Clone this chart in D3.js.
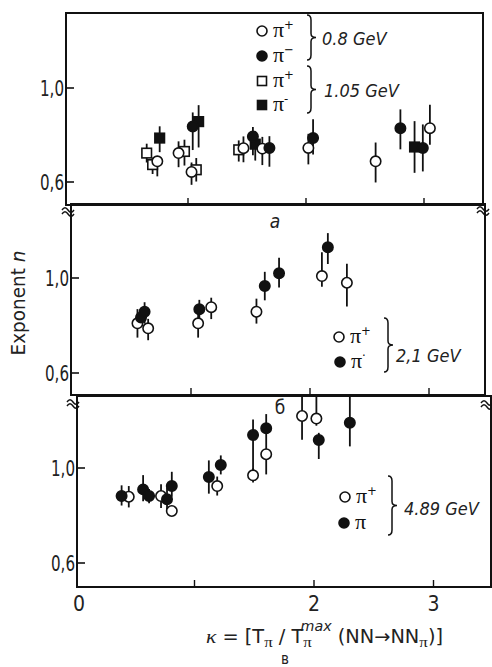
<!DOCTYPE html>
<html><head><meta charset="utf-8">
<script src="https://cdn.jsdelivr.net/npm/d3@7"></script>
<style>body{margin:0;background:#fff}svg{display:block}</style>
</head><body>
<svg id="c" width="492" height="667"></svg>
<script>
// ---- data: each point is [kappa, n, errDown, errUp] ----
// panel а : 0.8 GeV and 1.05 GeV
const pipA08 = [[0.74,0.688,0.064,0.02],[0.92,0.723,0.06,0.05],[1.03,0.643,0.055,0.04],[1.47,0.744,0.06,0.05],[1.63,0.742,0.07,0.05],[2.02,0.745,0.07,0.06],[2.59,0.688,0.09,0.08],[3.05,0.829,0.07,0.10]];
const pimA08 = [[1.04,0.836,0.10,0.06],[1.55,0.794,0.08,0.04],[1.69,0.745,0.08,0.05],[2.06,0.787,0.07,0.08],[2.80,0.829,0.09,0.08],[2.99,0.745,0.10,0.10]];
const pipA105 = [[0.65,0.723,0.04,0.04],[0.70,0.674,0.04,0.03],[0.97,0.730,0.06,0.05],[1.07,0.652,0.05,0.05],[1.43,0.737,0.05,0.04]];
const pimA105 = [[0.76,0.787,0.06,0.05],[1.09,0.857,0.11,0.07],[1.57,0.761,0.07,0.04],[2.92,0.749,0.11,0.11]];
// panel б : 2.1 GeV
const pipB21 = [[0.55,0.809,0.06,0.06],[0.64,0.788,0.05,0.04],[1.06,0.809,0.06,0.05],[1.17,0.877,0.05,0.04],[1.55,0.858,0.05,0.055],[2.10,1.008,0.045,0.10],[2.31,0.980,0.10,0.08]];
const pimB21 = [[0.58,0.834,0.04,0.04],[0.61,0.858,0.05,0.04],[1.07,0.868,0.05,0.04],[1.62,0.966,0.06,0.06],[1.74,1.020,0.06,0.065],[2.15,1.129,0.07,0.06]];
// panel в : 4.89 GeV
const pipC489 = [[0.45,0.879,0.045,0.045],[0.72,0.882,0.05,0.05],[0.81,0.819,0.02,0.02],[1.19,0.924,0.04,0.04],[1.49,0.969,0.03,0.03],[1.60,1.058,0.085,0.11],[1.90,1.219,0.10,0.12],[2.02,1.208,0.03,0.12]];
const pimC489 = [[0.39,0.882,0.04,0.045],[0.57,0.910,0.05,0.06],[0.62,0.882,0.03,0.03],[0.77,0.868,0.05,0.05],[0.81,0.924,0.045,0.06],[1.12,0.962,0.07,0.07],[1.22,1.013,0.04,0.04],[1.49,1.139,0.17,0.065],[1.60,1.167,0.0,0.06],[2.04,1.118,0.08,0.03],[2.30,1.191,0.10,0.12]];

const xTicks = [1, 2, 3];
const yTicks = [0.6, 1.0];
const yTickLabels = ["0,6", "1,0"];
const xTickValues = [0, 2, 3];
const xTickLabels = ["0", "2", "3"];
const panelLetters = ["а", "б"];
const legendA = [["π","+"],["π","−"],["π","+"],["π","-"]];
const energyA = ["0.8 GeV", "1.05 GeV"];
const legendB = [["π","+"],["π","·"]];
const energyB = ["2,1 GeV"];
const legendC = [["π","+"],["π",""]];
const energyC = ["4.89 GeV"];

const svg = d3.select("#c");
const SANS = "'DejaVu Sans Condensed','Liberation Sans Narrow','DejaVu Sans',sans-serif";
const SERIF = "'Liberation Serif','DejaVu Serif',serif";

const panels = [
  {L:66,R:483,T:13,B:205,k0:70,k1:188,y06:182,y10:88,
   series:[{d:pipA105,shape:"square",fill:false},{d:pimA105,shape:"square",fill:true},
           {d:pipA08,shape:"circle",fill:false},{d:pimA08,shape:"circle",fill:true}]},
  {L:71,R:485,T:204,B:395,k0:72,k1:191,y06:373,y10:278,
   series:[{d:pipB21,shape:"circle",fill:false},{d:pimB21,shape:"circle",fill:true}]},
  {L:77,R:491,T:396,B:587,k0:75,k1:194.5,y06:563,y10:468,
   series:[{d:pipC489,shape:"circle",fill:false},{d:pimC489,shape:"circle",fill:true}]}
];

const defs = svg.append("defs");
panels.forEach((p,i)=>{
  p.x = d3.scaleLinear().domain([0,1]).range([p.k0,p.k1]);
  p.y = d3.scaleLinear().domain([0.6,1.0]).range([p.y06,p.y10]);
  defs.append("clipPath").attr("id","clip"+i).append("rect")
    .attr("x",p.L).attr("y",p.T).attr("width",p.R-p.L).attr("height",p.B-p.T);
});

function marker(g, shape, fill, cx, cy, size){
  if(shape==="circle"){
    g.append("circle").attr("cx",cx).attr("cy",cy).attr("r",size)
      .attr("fill",fill?"#111":"#fff").attr("stroke","#111").attr("stroke-width",1.6);
  } else {
    g.append("rect").attr("x",cx-size).attr("y",cy-size).attr("width",2*size).attr("height",2*size)
      .attr("fill",fill?"#111":"#fff").attr("stroke","#111").attr("stroke-width",1.6);
  }
}

panels.forEach((p,i)=>{
  const g = svg.append("g");
  g.append("rect").attr("x",p.L).attr("y",p.T).attr("width",p.R-p.L).attr("height",p.B-p.T)
    .attr("fill","none").attr("stroke","#111").attr("stroke-width",2);
  yTicks.forEach((t,j)=>{
    g.append("line").attr("x1",p.L).attr("x2",p.L+8).attr("y1",p.y(t)).attr("y2",p.y(t))
      .attr("stroke","#111").attr("stroke-width",1.6);
    g.append("text").attr("x",p.L-2).attr("y",p.y(t)+8).attr("text-anchor","end")
      .attr("font-family",SANS).attr("font-size",22).attr("fill","#222")
      .attr("textLength",24).attr("lengthAdjust","spacingAndGlyphs").text(yTickLabels[j]);
  });
  xTicks.forEach(t=>{
    g.append("line").attr("x1",p.x(t)).attr("x2",p.x(t)).attr("y1",p.B).attr("y2",p.B-7)
      .attr("stroke","#111").attr("stroke-width",1.4);
  });
  const dg = g.append("g").attr("clip-path","url(#clip"+i+")");
  p.series.forEach(s=>{
    s.d.forEach(d=>{
      dg.append("line").attr("x1",p.x(d[0])).attr("x2",p.x(d[0]))
        .attr("y1",p.y(d[1]-d[2])).attr("y2",p.y(d[1]+d[3]))
        .attr("stroke","#111").attr("stroke-width",1.8);
    });
  });
  p.series.forEach(s=>{
    s.d.forEach(d=>{
      marker(dg, s.shape, s.fill, p.x(d[0]), p.y(d[1]), s.shape==="circle"?5.2:4.8);
    });
  });
});

function brk(x,y){
  [0,4].forEach(o=>{
    svg.append("path").attr("d",`M${x-6},${y+o} c2,-3 4,-3 6,0 s4,3 6,0`)
      .attr("fill","none").attr("stroke","#111").attr("stroke-width",1.4);
  });
}
brk(68,210); brk(483,209); brk(73,402); brk(487,403);

svg.append("text").attr("x",275).attr("y",228).attr("text-anchor","middle")
  .attr("font-family",SANS).attr("font-size",19).attr("font-style","italic").attr("fill","#222").text(panelLetters[0]);
svg.append("text").attr("x",280).attr("y",414).attr("text-anchor","middle")
  .attr("font-family",SANS).attr("font-size",19).attr("fill","#222").text(panelLetters[1]);

function legendItem(shape, fill, cx, cy, lab){
  marker(svg, shape, fill, cx, cy, shape==="circle"?5:4.5);
  const t = svg.append("text").attr("x",cx+11).attr("y",cy+6)
    .attr("font-family",SERIF).attr("font-size",22).attr("fill","#111");
  t.append("tspan").text(lab[0]);
  t.append("tspan").attr("dy",-8).attr("font-size",13).attr("font-family",SANS).text(lab[1]);
}
function brace(x, y1, y2){
  const m=(y1+y2)/2;
  svg.append("path").attr("d",`M${x-4},${y1} Q${x},${y1} ${x},${y1+5} L${x},${m-4} Q${x},${m} ${x+5},${m} Q${x},${m} ${x},${m+4} L${x},${y2-5} Q${x},${y2} ${x-4},${y2}`)
    .attr("fill","none").attr("stroke","#111").attr("stroke-width",1.5);
}
function energy(x,y,txt){
  svg.append("text").attr("x",x).attr("y",y).attr("font-family",SANS).attr("font-size",18)
    .attr("font-style","italic").attr("fill","#222").text(txt);
}
legendItem("circle",false,262,31,legendA[0]);
legendItem("circle",true,262,56,legendA[1]);
legendItem("square",false,262,81,legendA[2]);
legendItem("square",true,262,105,legendA[3]);
brace(311,15,60); brace(311,66,113);
energy(322,45,energyA[0]); energy(324,97,energyA[1]);

legendItem("circle",false,339,337,legendB[0]);
legendItem("circle",true,340,362,legendB[1]);
brace(388,318,372);
energy(396,362,energyB[0]);

legendItem("circle",false,345,497,legendC[0]);
legendItem("circle",true,344,523,legendC[1]);
brace(392,476,535);
energy(404,515,energyC[0]);

svg.append("text").attr("transform","translate(25,303) rotate(-90)").attr("text-anchor","middle")
  .attr("font-family",SANS).attr("font-size",19).attr("fill","#222")
  .attr("textLength",105).attr("lengthAdjust","spacingAndGlyphs")
  .html('Exponent <tspan font-style="italic">n</tspan>');

const pb = panels[2];
xTickValues.forEach((t,j)=>{
  svg.append("text").attr("x",pb.x(t)+(t===0?4:0)).attr("y",611).attr("text-anchor","middle")
    .attr("font-family",SANS).attr("font-size",21).attr("fill","#222").text(xTickLabels[j]);
});

const xt = svg.append("text").attr("x",206).attr("y",643).attr("font-family",SANS)
  .attr("font-size",19).attr("fill","#222")
  .attr("textLength",237).attr("lengthAdjust","spacingAndGlyphs");
xt.append("tspan").attr("font-family",SERIF).attr("font-style","italic").text("κ");
xt.append("tspan").text(" = [T");
xt.append("tspan").attr("font-family",SERIF).attr("font-size",15).attr("dy",4).text("π");
xt.append("tspan").attr("dy",-4).text(" / T");
xt.append("tspan").attr("font-family",SERIF).attr("font-size",15).attr("dy",4).text("π");
xt.append("tspan").attr("font-size",14).attr("dy",-16).attr("dx",-10).attr("font-style","italic").text("max");
xt.append("tspan").attr("dy",12).text(" (NN→NN");
xt.append("tspan").attr("font-family",SERIF).attr("font-size",15).attr("dy",4).text("π");
xt.append("tspan").attr("dy",-4).text(")]");
svg.append("text").attr("x",285).attr("y",664).attr("text-anchor","middle")
  .attr("font-family",SANS).attr("font-size",15).attr("fill","#222").text("в");
</script>
</body></html>
